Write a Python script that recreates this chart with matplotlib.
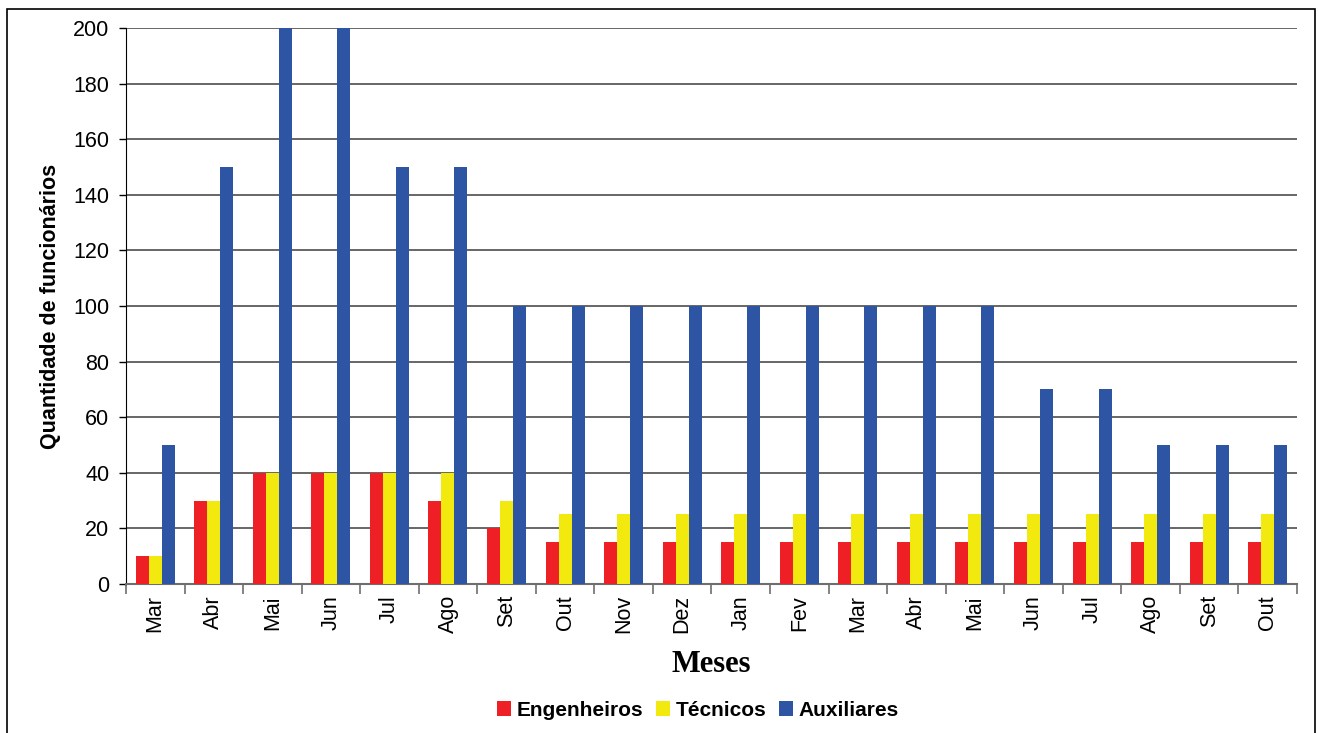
import numpy as np
import matplotlib
matplotlib.use("Agg")
import matplotlib.pyplot as plt
from matplotlib.patches import Rectangle

months = ["Mar", "Abr", "Mai", "Jun", "Jul", "Ago", "Set", "Out", "Nov", "Dez",
          "Jan", "Fev", "Mar", "Abr", "Mai", "Jun", "Jul", "Ago", "Set", "Out"]
engenheiros = [10, 30, 40, 40, 40, 30, 20, 15, 15, 15, 15, 15, 15, 15, 15, 15, 15, 15, 15, 15]
tecnicos = [10, 30, 40, 40, 40, 40, 30, 25, 25, 25, 25, 25, 25, 25, 25, 25, 25, 25, 25, 25]
auxiliares = [50, 150, 200, 200, 150, 150, 100, 100, 100, 100, 100, 100, 100, 100, 100, 70, 70, 50, 50, 50]

series = [("Engenheiros", engenheiros, "#ee1f25"),
          ("Técnicos", tecnicos, "#f2ea0e"),
          ("Auxiliares", auxiliares, "#2e54a4")]

plt.rcParams['font.family'] = ['Liberation Sans', 'DejaVu Sans']

fig = plt.figure(figsize=(13.19, 7.33), dpi=100)
ax = fig.add_axes([0.0955, 0.2033, 0.8878, 0.7585])

x = np.arange(len(months))
w = 0.222
for i, (name, vals, col) in enumerate(series):
    ax.bar(x + (i - 1) * w, vals, width=w, color=col, label=name, zorder=3)

ax.set_xlim(-0.5, len(months) - 0.5)
ax.set_ylim(0, 200)
ax.set_yticks(range(0, 201, 20))
ax.yaxis.grid(True, color="#4d4d4d", lw=1.2, zorder=1)
ax.tick_params(axis="y", labelsize=15.5, length=5, width=1, color="black", pad=7)

# month labels in the middle, tick marks on the boundaries
ax.set_xticks(x)
ax.set_xticklabels(months, rotation=90, fontsize=15.5)
ax.tick_params(axis="x", which="major", length=0, pad=8)
ax.set_xticks(np.arange(-0.5, len(months)), minor=True)
ax.tick_params(axis="x", which="minor", length=7, width=1.2, color="#6e6e6e")

for s in ["top", "right"]:
    ax.spines[s].set_visible(False)
ax.spines["left"].set_color("black")
ax.spines["bottom"].set_color("#6e6e6e")
ax.spines["bottom"].set_linewidth(1.5)

ax.set_ylabel("Quantidade de funcionários", fontsize=15.5, fontweight="bold", labelpad=9)
ax.set_xlabel("Meses", fontsize=22, fontweight="bold", family="Liberation Serif", labelpad=12)

fig.legend(loc="center", bbox_to_anchor=(0.529, 0.031), ncol=3, frameon=False,
           prop={"weight": "bold", "size": 15}, handlelength=0.7, handleheight=0.7,
           handletextpad=0.25, columnspacing=0.6)

# outer frame
fig.patches.append(Rectangle((7 / 1319, -0.1), (1315 - 7) / 1319, 1.1 - 9 / 733,
                             transform=fig.transFigure, fill=False, ec="black", lw=1.2))

fig.savefig("out.png", dpi=100)
